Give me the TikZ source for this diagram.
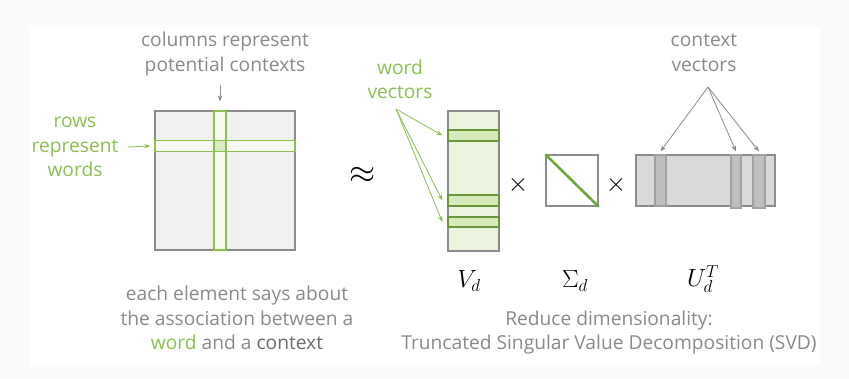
\documentclass[tikz,border=0pt]{standalone}
\usepackage{fontspec}
\setmainfont{Open Sans}
\usetikzlibrary{arrows.meta}
\definecolor{txtgray}{RGB}{138,138,138}
\definecolor{wgreen}{RGB}{139,192,80}
\definecolor{dgreen}{RGB}{104,150,56}
\definecolor{diaggreen}{RGB}{110,168,58}
\definecolor{bordgray}{RGB}{140,140,140}
\definecolor{stripfill}{RGB}{248,250,242}
\definecolor{cellfill}{RGB}{216,235,192}
\definecolor{vfill}{RGB}{235,245,221}
\definecolor{vbandfill}{RGB}{214,234,186}
\definecolor{ufill}{RGB}{217,217,217}
\definecolor{ubandfill}{RGB}{190,190,190}
\definecolor{ubanddraw}{RGB}{160,160,160}
\begin{document}
\begin{tikzpicture}[x=1pt, y=-1pt,
  every node/.style={font=\fontsize{19.2}{24.5}\selectfont, inner sep=0pt},
  mat/.style={draw=bordgray, line width=1.2pt, fill=#1},
  strip/.style={draw=wgreen, line width=1.2pt, fill=#1},
  vband/.style={draw=dgreen, line width=1.2pt, fill=vbandfill, minimum width=51pt, minimum height=11pt},
  uband/.style={draw=ubanddraw, line width=1.2pt, fill=ubandfill, minimum height=53pt},
  garrow/.style={-{Stealth[length=6pt,width=4.5pt]}, draw=#1, line width=.8pt},
  lbl/.style={align=center, text=txtgray},
  mlbl/.style={font=\fontsize{23}{24}\selectfont},
  opsign/.style={font=\fontsize{24}{24}\selectfont, scale=1.05}]
  \useasboundingbox (0,0) rectangle (849,378);
  \fill[black!2] (0,0) rectangle (849,378);
  \fill[white] (30,28) rectangle (820,365);
  % word-context matrix
  \node[mat=black!6, minimum width=140pt, minimum height=139pt] (M) at (225,180.5) {};
  \node[strip=stripfill, minimum width=12pt, minimum height=139pt] (col) at (220,180.5) {};
  \node[strip=stripfill, minimum width=140pt, minimum height=10.5pt] (row) at (225,146) {};
  \node[strip=cellfill, minimum width=12pt, minimum height=10.5pt] (cell) at (220,146) {};
  \node[lbl] (coltxt) at (225,54) {columns represent\\potential contexts};
  \node[lbl, text=wgreen] (rowtxt) at (75,147) {rows\\represent\\words};
  \coordinate (ca) at (220,85);
  \draw[garrow=txtgray] (ca) -- ([yshift=9pt]col.north);
  \draw[garrow=wgreen] ([xshift=9pt]rowtxt.east) -- ([xshift=-4pt]row.west);
  \node[font=\fontsize{24}{24}\selectfont, scale=1.35] (approx) at (363,175) {$\approx$};
  % V_d
  \node[mat=vfill, minimum width=51pt, minimum height=140pt] (V) at (473.5,181) {};
  \node[vband] (v1) at (473.5,135.5) {};
  \node[vband] (v2) at (473.5,200.5) {};
  \node[vband, minimum height=10pt] (v3) at (473.5,222) {};
  \node[lbl, text=wgreen] (wvtxt) at (400,79.5) {word\\vectors};
  \coordinate (wv) at (396,109);
  \foreach \b in {v1,v2,v3}
    \draw[garrow=wgreen] (wv) -- ([xshift=-5pt]\b.west);
  \node[opsign] (x1) at (518,185) {$\times$};
  % Sigma_d
  \node[mat=white, minimum width=52pt, minimum height=51pt] (S) at (572,180.5) {};
  \draw[line width=2.6pt, draw=diaggreen] (S.north west) -- (S.south east);
  \node[opsign] (x2) at (616,185) {$\times$};
  % U_d^T
  \node[mat=ufill, minimum width=139pt, minimum height=51pt] (U) at (705.5,180.5) {};
  \node[uband, minimum width=11pt, minimum height=51pt] (u1) at (660.5,180.5) {};
  \node[uband, minimum width=10pt] (u2) at (736,181.5) {};
  \node[uband, minimum width=12pt] (u3) at (759,181.5) {};
  \node[lbl] (ctxtxt) at (704,53) {context\\vectors};
  \coordinate (cv) at (708,87);
  \foreach \b in {u1,u2,u3}
    \draw[garrow=txtgray] (cv) -- ([yshift=3pt]\b.north);
  % labels
  \node[mlbl] (Vl) at (469,281) {$V_d$};
  \node[mlbl] (Sl) at (575,281) {$\Sigma_d$};
  \node[mlbl] (Ul) at (703,279) {$U_d^T$};
  \node[lbl] (elem) at (237,318) {each element says about\\the association between a\\{\color{wgreen}word} and a {\color{black!58}context}};
  \node[lbl] (svd) at (609,332.5) {Reduce dimensionality:\\Truncated Singular Value Decomposition (SVD)};
\end{tikzpicture}
\end{document}
